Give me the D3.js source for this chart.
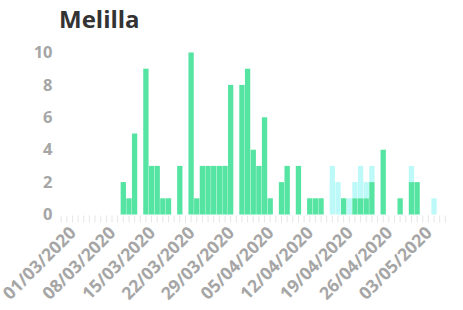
<!DOCTYPE html>
<html>
<head>
<meta charset="utf-8">
<script src="https://cdn.jsdelivr.net/npm/d3@7"></script>
<style>
  body { margin: 0; background: #fff; }
  #chart { width: 463px; height: 310px; }
</style>
</head>
<body>
<div id="chart"></div>
<script>
// Data
const title = 'Melilla';
const firstDay = '2020-03-01';
const lastDay = '2020-05-08';
const tickLabels = ['01/03/2020', '08/03/2020', '15/03/2020', '22/03/2020', '29/03/2020',
  '05/04/2020', '12/04/2020', '19/04/2020', '26/04/2020', '03/05/2020'];
const yTicks = [0, 2, 4, 6, 8, 10];

// daily values, one per day from 01/03 to 08/05
const greenValues = [
  0, 0, 0, 0, 0, 0, 0, 0, 0, 0, 0, 2, 1, 5, 0, 9, 3, 3, 1, 1,
  0, 3, 0, 10, 1, 3, 3, 3, 3, 3, 8, 0, 8, 9, 4, 3, 6, 1, 0, 2,
  3, 0, 3, 0, 1, 1, 1, 0, 0, 0, 1, 0, 1, 1, 1, 2, 0, 4, 0, 0,
  1, 0, 2, 2, 0, 0, 0, 0, 0
];
const cyanValues = [
  0, 0, 0, 0, 0, 0, 0, 0, 0, 0, 0, 0, 0, 0, 0, 0, 0, 0, 0, 0,
  0, 0, 0, 0, 0, 0, 0, 0, 0, 0, 0, 0, 0, 0, 0, 0, 0, 0, 0, 0,
  0, 0, 0, 0, 0, 0, 0, 0, 3, 2, 0, 1, 1, 2, 1, 1, 0, 0, 0, 0,
  0, 0, 1, 0, 0, 0, 1, 0, 0
];

function draw() {
  const parseDate = d3.timeParse('%Y-%m-%d');
  const fmt = d3.timeFormat('%d/%m/%Y');
  const days = d3.timeDay.range(parseDate(firstDay), d3.timeDay.offset(parseDate(lastDay), 1));

  const dataset = days.map((d, i) => ({
    day: fmt(d),
    green: greenValues[i],
    cyan: cyanValues[i]
  }));

  let dimensions = {
    width: 463,
    height: 310,
    margin: { top: 52.5, bottom: 95.5, left: 58.5, right: 15 }
  };
  dimensions.ctrWidth = dimensions.width - dimensions.margin.left - dimensions.margin.right;
  dimensions.ctrHeight = dimensions.height - dimensions.margin.top - dimensions.margin.bottom;

  const svg = d3.select('#chart')
    .append('svg')
    .attr('width', dimensions.width)
    .attr('height', dimensions.height);

  svg.append('text')
    .attr('x', 59)
    .attr('y', 28)
    .attr('font-family', 'Open Sans, sans-serif')
    .attr('font-weight', 700)
    .attr('font-size', '24px')
    .attr('fill', '#333')
    .text(title);

  const ctr = svg.append('g')
    .attr('transform', `translate(${dimensions.margin.left}, ${dimensions.margin.top})`);

  // Scales
  const xScale = d3.scaleBand()
    .domain(dataset.map(d => d.day))
    .range([0, dimensions.ctrWidth])
    .paddingInner(0.06);

  const yScale = d3.scaleLinear()
    .domain([0, 10])
    .range([dimensions.ctrHeight, 0]);

  // Cyan bars stacked on top of green
  ctr.append('g')
    .selectAll('rect')
    .data(dataset.filter(d => d.cyan > 0))
    .join('rect')
    .attr('x', d => xScale(d.day))
    .attr('width', xScale.bandwidth())
    .attr('y', d => yScale(d.green + d.cyan))
    .attr('height', d => yScale(d.green) - yScale(d.green + d.cyan))
    .attr('fill', '#bdf9f8');

  ctr.append('g')
    .selectAll('rect')
    .data(dataset.filter(d => d.green > 0))
    .join('rect')
    .attr('x', d => xScale(d.day))
    .attr('width', xScale.bandwidth())
    .attr('y', d => yScale(d.green))
    .attr('height', d => yScale(0) - yScale(d.green))
    .attr('fill', '#55e4a2');

  // Axes
  const xAxis = d3.axisBottom(xScale)
    .tickSizeOuter(0)
    .tickSize(7)
    .tickPadding(6)
    .tickFormat(d => tickLabels.includes(d) ? d : '');

  const xg = ctr.append('g')
    .attr('transform', `translate(0, ${dimensions.ctrHeight + 1})`)
    .call(xAxis);
  xg.select('.domain').remove();
  xg.selectAll('.tick line').attr('stroke', '#e6e6e6');
  xg.selectAll('.tick text')
    .attr('font-family', 'Open Sans, sans-serif')
    .attr('font-weight', 700)
    .attr('font-size', '17.5px')
    .attr('fill', '#a6a6a6')
    .attr('text-anchor', 'end')
    .attr('transform', 'rotate(-45)')
    .attr('dx', '-0.1em')
    .attr('dy', '0.65em');

  const yAxis = d3.axisLeft(yScale)
    .tickValues(yTicks)
    .tickSize(0)
    .tickPadding(6);

  const yg = ctr.append('g').call(yAxis);
  yg.select('.domain').remove();
  yg.selectAll('.tick text')
    .attr('font-family', 'Open Sans, sans-serif')
    .attr('font-weight', 700)
    .attr('font-size', '16.5px')
    .attr('fill', '#a6a6a6');
}

draw();
</script>
</body>
</html>
